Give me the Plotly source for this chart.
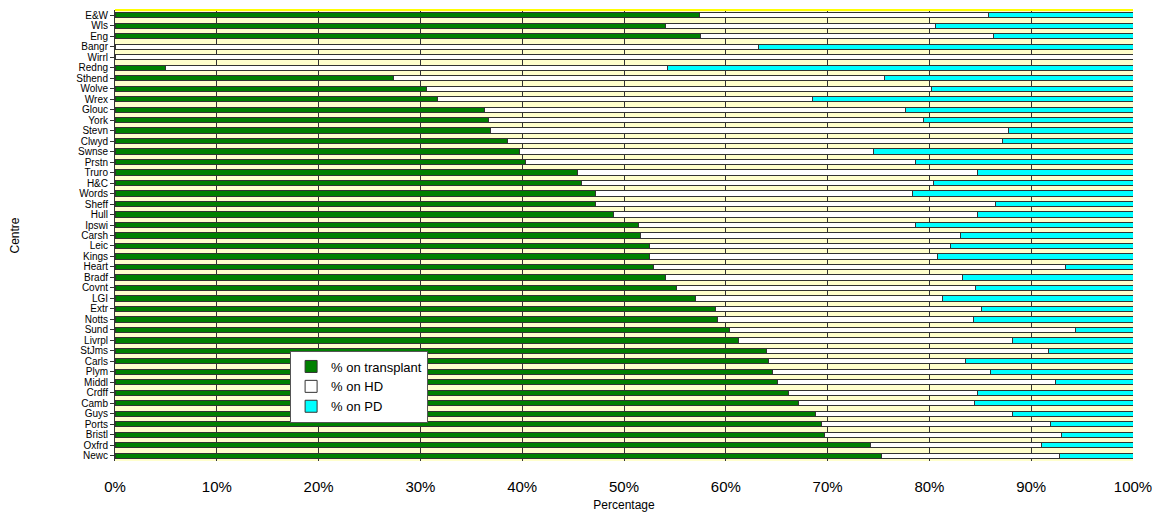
import plotly.graph_objects as go

centres = ["E&W","Wls","Eng","Bangr","Wirrl","Redng","Sthend","Wolve","Wrex","Glouc","York","Stevn","Clwyd","Swnse","Prstn","Truro","H&C","Words","Sheff","Hull","Ipswi","Carsh","Leic","Kings","Heart","Bradf","Covnt","LGI","Extr","Notts","Sund","Livrpl","StJms","Carls","Plym","Middl","Crdff","Camb","Guys","Ports","Bristl","Oxfrd","Newc"]
transplant = [57.4,54.1,57.5,0,0,5.0,27.4,30.6,31.7,36.3,36.7,36.9,38.6,39.7,40.3,45.4,45.8,47.2,47.2,49.0,51.4,51.6,52.5,52.5,52.9,54.1,55.2,57.0,59.0,59.2,60.4,61.2,64.0,64.2,64.6,65.1,66.2,67.1,68.8,69.4,69.7,74.2,75.3]
hd = [28.4,26.5,28.8,63.2,100,49.3,48.2,49.6,36.8,41.4,42.7,50.9,48.6,34.8,38.3,39.3,34.6,31.1,39.3,35.7,27.2,31.5,29.6,28.3,40.5,29.2,29.3,24.3,26.1,25.1,34.0,27.0,27.7,19.3,21.4,27.3,18.5,17.3,19.4,22.5,23.3,16.8,17.5]
pd_ = [round(100 - t - h, 1) for t, h in zip(transplant, hd)]

fig = go.Figure()
for name, vals, col in [("% on transplant", transplant, "#008000"),
                        ("% on HD", hd, "#FFFFFF"),
                        ("% on PD", pd_, "#00FFFF")]:
    fig.add_trace(go.Bar(y=centres, x=vals, name=name, orientation="h",
                         marker=dict(color=col, line=dict(color="#333333", width=1))))

fig.update_layout(
    barmode="stack", bargap=0.5, width=1149, height=504,
    margin=dict(l=107, r=24, t=2, b=51, autoexpand=False),
    paper_bgcolor="white", plot_bgcolor="#FFFFCC",
    font=dict(family="Liberation Sans, Arial", color="black"),
    showlegend=True,
    legend=dict(x=0.172, y=0.245, xanchor="left", yanchor="top", bgcolor="white",
                bordercolor="#555555", borderwidth=1, font=dict(size=13),
                traceorder="normal", itemwidth=30, tracegroupgap=0),
    xaxis=dict(range=[0, 100], tickvals=list(range(0, 101, 10)),
               ticktext=[f"{v}%" for v in range(0, 101, 10)],
               showgrid=True, gridcolor="#333333", gridwidth=1,
               tickfont=dict(size=15), ticks="", zeroline=False, automargin=False,
               ticklabelstandoff=15,
               title=dict(text="Percentage", font=dict(size=12), standoff=9),
               showline=False),
    yaxis=dict(categoryorder="array", categoryarray=centres[::-1],
               tickmode="array", tickvals=centres, ticktext=centres,
               tickfont=dict(size=10), ticks="outside", ticklen=4, automargin=False,
               tickcolor="#333333", showline=True, linecolor="#333333",
               title=dict(text="Centre", font=dict(size=12), standoff=60)),
)
fig.add_shape(type="line", xref="paper", yref="paper", x0=0, x1=1, y0=1, y1=1,
              line=dict(color="#FFFF00", width=2))
fig.write_html("out.html")
